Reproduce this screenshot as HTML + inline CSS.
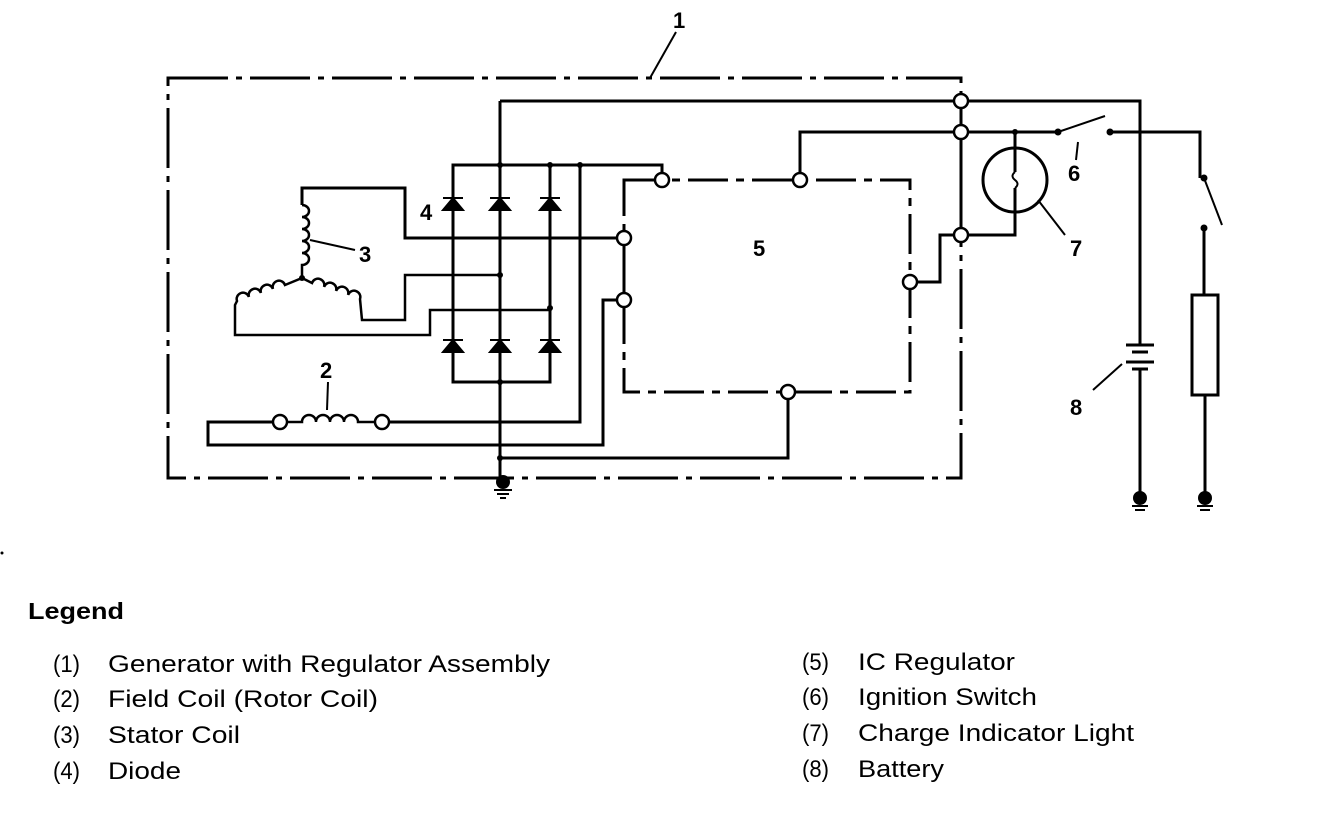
<!DOCTYPE html>
<html><head><meta charset="utf-8"><style>
html,body{margin:0;padding:0;background:#fff;}
svg{display:block;}
text{font-family:"Liberation Sans",Arial,sans-serif;fill:#000;}
</style></head><body>
<svg width="1328" height="828" viewBox="0 0 1328 828" xmlns="http://www.w3.org/2000/svg">
<g fill="none" stroke="#000" stroke-width="3">
<path d="M168 78 H961 V478 H168 Z" stroke-dasharray="60 8 6 8"/>
<line x1="676" y1="32" x2="650" y2="78" stroke-width="2"/>
<path d="M624 180 H910 V392 H624 Z" stroke-dasharray="40 8 8 8"/>
<path d="M500 101 H1140 V345"/>
<path d="M500 101 V478"/>
<path d="M961 101 V235"/>
<path d="M800 180 V132 H1058"/>
<path d="M1058 132 L1105 116" stroke-width="2"/>
<path d="M1110 132 H1200 V178"/>
<path d="M1204 178 L1222 225" stroke-width="2"/>
<path d="M1204 228 V295"/>
<rect x="1192" y="295" width="26" height="100"/>
<path d="M1205 395 V495"/>
<circle cx="1015" cy="180" r="32"/>
<path d="M1015 132 V172 M1015 188 V235 H961" />
<path d="M1015 172 q-5 4 0 8 q5 4 0 8" stroke-width="2"/>
<line x1="1038" y1="200" x2="1065" y2="235" stroke-width="2"/>
<line x1="1078" y1="142" x2="1076" y2="160" stroke-width="2"/>
<path d="M1126 345 H1154 M1132 352 H1148 M1126 362 H1154 M1132 369 H1148" stroke-width="3"/>
<path d="M1140 369 V495"/>
<line x1="1093" y1="390" x2="1122" y2="364" stroke-width="2"/>
<path d="M910 282 H940 V235 H961"/>
<path d="M662 180 V165 H453 V382 H550 V165"/>
<path d="M580 165 V422 H382"/>
<path d="M280 422 H208 V445 H603 V300 H624"/>
<path d="M288 422 H302 a7 7 0 0 1 14 0 a7 7 0 0 1 14 0 a7 7 0 0 1 14 0 a7 7 0 0 1 14 0 H374" stroke-width="2.5"/>
<line x1="328" y1="382" x2="327" y2="410" stroke-width="2"/>
<path d="M500 458 H788 V392"/>
<path d="M624 238 V300"/>
<path d="M624 238 H405 V188 H302 V205"/>
<path d="M302 205 a7 6 0 0 1 0 12 a7 6 0 0 1 0 12 a7 6 0 0 1 0 12 a7 6 0 0 1 0 12 a7 6 0 0 1 0 12 V278" stroke-width="2.5"/>
<path d="M302 278 L285 285 a6 6 0 0 0 -12 4 a6 6 0 0 0 -12 4 a6 6 0 0 0 -12 4 a6 6 0 0 0 -12 4 L235 305 V335 H430 V310 H550" stroke-width="2.5"/>
<path d="M302 278 L312 283 a6 6 0 0 1 12 4 a6 6 0 0 1 12 4 a6 6 0 0 1 12 4 a6 6 0 0 1 12 4 L362 320 H405 V275 H500" stroke-width="2.5"/>
<line x1="310" y1="240" x2="355" y2="250" stroke-width="2"/>
</g>
<g fill="#000" stroke="#000" stroke-width="2">
<path d="M443 210 L463 210 L453 198 Z M443 198 H463"/>
<path d="M490 210 L510 210 L500 198 Z M490 198 H510"/>
<path d="M540 210 L560 210 L550 198 Z M540 198 H560"/>
<path d="M443 352 L463 352 L453 340 Z M443 340 H463"/>
<path d="M490 352 L510 352 L500 340 Z M490 340 H510"/>
<path d="M540 352 L560 352 L550 340 Z M540 340 H560"/>
</g>
<g fill="#000">
<circle cx="500" cy="165" r="3"/><circle cx="550" cy="165" r="3"/><circle cx="580" cy="165" r="3"/>
<circle cx="500" cy="275" r="3"/><circle cx="550" cy="308" r="3"/><circle cx="500" cy="382" r="3"/>
<circle cx="500" cy="458" r="3"/><circle cx="302" cy="278" r="3"/>
<circle cx="1015" cy="132" r="3"/><circle cx="1058" cy="132" r="3.5"/><circle cx="1110" cy="132" r="3.5"/>
<circle cx="1204" cy="178" r="3.5"/><circle cx="1204" cy="228" r="3.5"/>
<circle cx="503" cy="482" r="7"/><circle cx="1140" cy="498" r="7"/><circle cx="1205" cy="498" r="7"/>
<circle cx="2" cy="553" r="1.5"/>
</g>
<g stroke="#000" stroke-width="2">
<path d="M494 490 H512 M497 494 H509 M500 498 H506"/>
<path d="M1132 506 H1148 M1135 510 H1145"/>
<path d="M1197 506 H1213 M1200 510 H1210"/>
</g>
<g fill="#fff" stroke="#000" stroke-width="2.5">
<circle cx="961" cy="101" r="7"/><circle cx="961" cy="132" r="7"/><circle cx="961" cy="235" r="7"/>
<circle cx="662" cy="180" r="7"/><circle cx="800" cy="180" r="7"/><circle cx="624" cy="238" r="7"/>
<circle cx="624" cy="300" r="7"/><circle cx="910" cy="282" r="7"/><circle cx="788" cy="392" r="7"/>
<circle cx="280" cy="422" r="7"/><circle cx="382" cy="422" r="7"/>
</g>
<g font-size="22" font-weight="bold">
<text x="673" y="28">1</text>
<text x="320" y="378">2</text>
<text x="359" y="262">3</text>
<text x="420" y="220">4</text>
<text x="753" y="256">5</text>
<text x="1068" y="181">6</text>
<text x="1070" y="256">7</text>
<text x="1070" y="415">8</text>
</g>
<text x="28" y="619" font-size="23" font-weight="bold" textLength="96" lengthAdjust="spacingAndGlyphs">Legend</text>
<g font-size="24">
<text x="53" y="672" textLength="27" lengthAdjust="spacingAndGlyphs">(1)</text><text x="108" y="672" textLength="442" lengthAdjust="spacingAndGlyphs">Generator with Regulator Assembly</text>
<text x="53" y="707" textLength="27" lengthAdjust="spacingAndGlyphs">(2)</text><text x="108" y="707" textLength="270" lengthAdjust="spacingAndGlyphs">Field Coil (Rotor Coil)</text>
<text x="53" y="743" textLength="27" lengthAdjust="spacingAndGlyphs">(3)</text><text x="108" y="743" textLength="132" lengthAdjust="spacingAndGlyphs">Stator Coil</text>
<text x="53" y="779" textLength="27" lengthAdjust="spacingAndGlyphs">(4)</text><text x="108" y="779" textLength="73" lengthAdjust="spacingAndGlyphs">Diode</text>
<text x="802" y="670" textLength="27" lengthAdjust="spacingAndGlyphs">(5)</text><text x="858" y="670" textLength="157" lengthAdjust="spacingAndGlyphs">IC Regulator</text>
<text x="802" y="705" textLength="27" lengthAdjust="spacingAndGlyphs">(6)</text><text x="858" y="705" textLength="179" lengthAdjust="spacingAndGlyphs">Ignition Switch</text>
<text x="802" y="741" textLength="27" lengthAdjust="spacingAndGlyphs">(7)</text><text x="858" y="741" textLength="276" lengthAdjust="spacingAndGlyphs">Charge Indicator Light</text>
<text x="802" y="777" textLength="27" lengthAdjust="spacingAndGlyphs">(8)</text><text x="858" y="777" textLength="86" lengthAdjust="spacingAndGlyphs">Battery</text>
</g>
</svg>
</body></html>
